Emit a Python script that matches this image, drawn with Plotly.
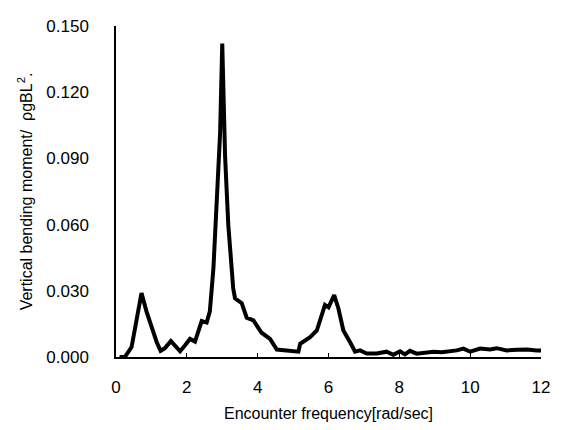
import plotly.graph_objects as go

freq = [0.10, 0.25, 0.44, 0.58, 0.72, 0.86, 1.00, 1.15, 1.26, 1.38, 1.55, 1.66, 1.81, 1.95,
        2.09, 2.23, 2.33, 2.42, 2.56, 2.65, 2.75, 2.84, 2.94, 3.00, 3.08, 3.17, 3.27, 3.31,
        3.36, 3.55, 3.69, 3.88, 4.11, 4.35, 4.54, 4.77, 4.96, 5.15, 5.20, 5.48, 5.67, 5.81,
        5.90, 6.00, 6.16, 6.28, 6.42, 6.61, 6.75, 6.89, 7.08, 7.36, 7.64, 7.83, 8.02, 8.16,
        8.30, 8.49, 8.70, 8.96, 9.20, 9.43, 9.62, 9.81, 10.00, 10.28, 10.56, 10.75, 11.03,
        11.32, 11.60, 11.88, 12.00]
vbm = [0.0000, 0.0000, 0.0045, 0.0160, 0.0290, 0.0207, 0.0134, 0.0067, 0.0028, 0.0040,
       0.0072, 0.0053, 0.0026, 0.0053, 0.0082, 0.0070, 0.0120, 0.0163, 0.0156, 0.0207,
       0.0400, 0.0660, 0.1016, 0.1420, 0.0910, 0.0600, 0.0380, 0.0310, 0.0266, 0.0244,
       0.0178, 0.0166, 0.0110, 0.0082, 0.0034, 0.0030, 0.0028, 0.0024, 0.0060, 0.0090,
       0.0120, 0.0192, 0.0236, 0.0225, 0.0280, 0.0220, 0.0120, 0.0067, 0.0024, 0.0030,
       0.0016, 0.0016, 0.0024, 0.0010, 0.0026, 0.0012, 0.0028, 0.0015, 0.0020, 0.0024,
       0.0022, 0.0026, 0.0030, 0.0038, 0.0024, 0.0038, 0.0034, 0.0040, 0.0030, 0.0033,
       0.0034, 0.0030, 0.0030]

x_ticks = [0, 2, 4, 6, 8, 10, 12]
y_ticks = [0.000, 0.030, 0.060, 0.090, 0.120, 0.150]

fig = go.Figure()
fig.add_trace(go.Scatter(x=freq, y=vbm, mode="lines",
                         line=dict(color="black", width=4), showlegend=False))

font = dict(family="Liberation Sans, Arial, sans-serif", color="black")

fig.update_layout(
    width=553, height=422,
    margin=dict(l=108, r=20, t=9, b=73),
    paper_bgcolor="white", plot_bgcolor="white",
    font=dict(**font, size=16),
)
fig.update_xaxes(
    range=[0, 12], tickvals=x_ticks, ticktext=[str(v) for v in x_ticks],
    showgrid=False, zeroline=False, showline=True, linecolor="black", linewidth=1.5,
    ticks="inside", ticklen=4, tickcolor="black", ticklabelstandoff=14,
    ticklabeloverflow="allow",
    tickfont=dict(**font, size=17),
    title=dict(text="Encounter frequency[rad/sec]", font=dict(**font, size=16), standoff=12),
)
fig.update_yaxes(
    range=[0, 0.150], tickvals=y_ticks, ticktext=[f"{v:.3f}" for v in y_ticks],
    showgrid=False, zeroline=False, showline=True, linecolor="black", linewidth=1.5,
    ticks="", ticklabelstandoff=22, ticklabeloverflow="allow",
    tickfont=dict(**font, size=17),
    title=dict(text="Vertical bending moment/  ρgBL<sup>2</sup>.", font=dict(**font, size=16), standoff=10),
)

fig.write_html("out.html")
